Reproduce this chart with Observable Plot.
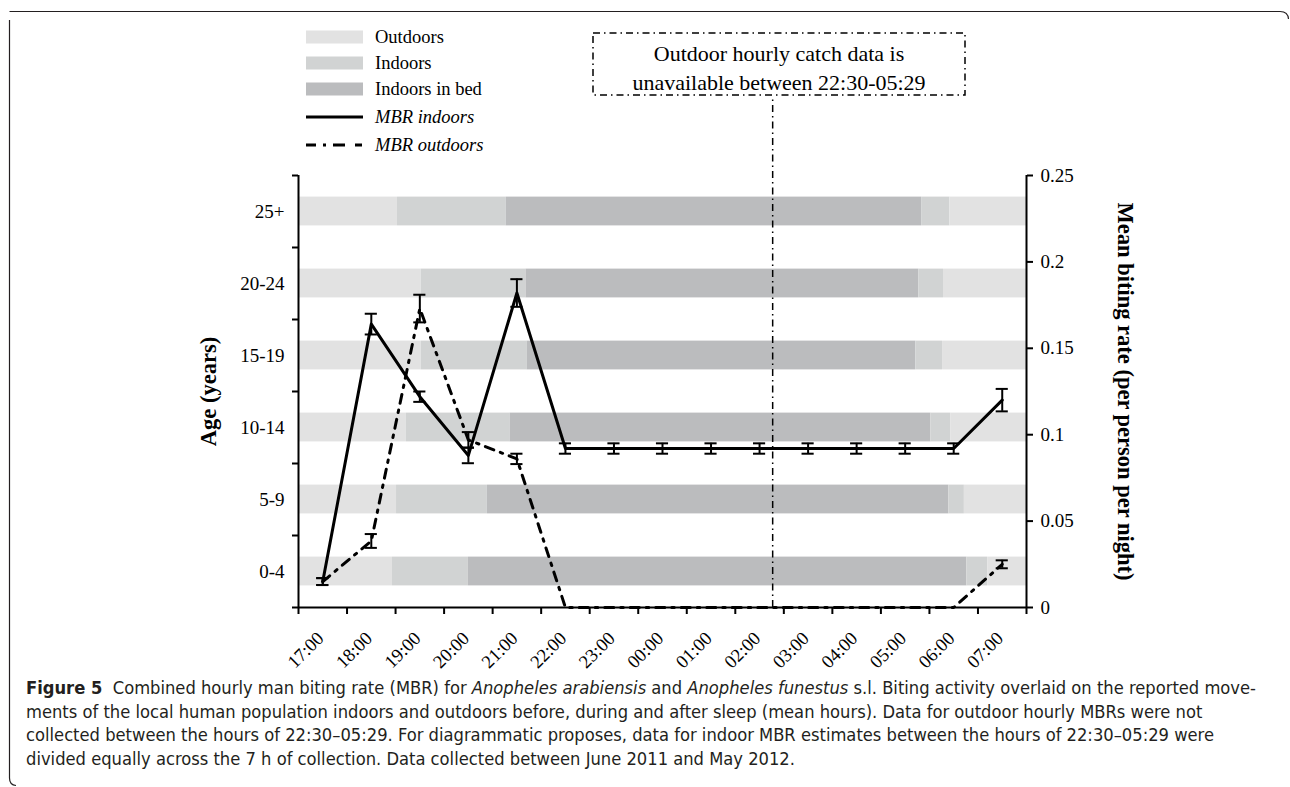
<!DOCTYPE html>
<html>
<head>
<meta charset="utf-8">
<script src="https://cdn.jsdelivr.net/npm/d3@7"></script>
<script src="https://cdn.jsdelivr.net/npm/@observablehq/plot@0.6"></script>
<style>
  body { margin: 0; background: #fff; }
  #wrap { position: relative; width: 1290px; height: 787px; overflow: hidden; background: #fff; }
  #wrap > svg { position: absolute; left: 0; top: 0; }
  .cap { position: absolute; left: 26px; white-space: nowrap; font-family: "Liberation Sans Narrow", "DejaVu Sans Condensed", "Open Sans", sans-serif; font-size: 17px; color: #231f20; transform-origin: 0 50%; line-height: 23px; }
  .cap b { font-weight: bold; }
</style>
</head>
<body>
<div id="wrap"></div>
<script>
// ---------- data ----------
const ages = ["0-4", "5-9", "10-14", "15-19", "20-24", "25+"];
// reported movements (decimal clock hours, after midnight = +24)
const indoorStart = [18.43, 18.52, 18.72, 19.03, 19.03, 18.54];
const bedStart    = [20.00, 20.39, 20.86, 21.21, 21.19, 20.78];
const bedEnd      = [30.27, 29.90, 29.53, 29.22, 29.28, 29.34];
const indoorEnd   = [30.70, 30.22, 29.94, 29.77, 29.79, 29.92];

const hourLabels = ["17:00","18:00","19:00","20:00","21:00","22:00","23:00","00:00","01:00","02:00","03:00","04:00","05:00","06:00","07:00"];
const mbrIndoors     = [0.015, 0.164, 0.122, 0.088, 0.182, 0.092, 0.092, 0.092, 0.092, 0.092, 0.092, 0.092, 0.092, 0.092, 0.120];
const mbrIndoorsErr  = [0.002, 0.006, 0.003, 0.0045, 0.008, 0.003, 0.003, 0.003, 0.003, 0.003, 0.003, 0.003, 0.003, 0.003, 0.0065];
const mbrOutdoors    = [0.015, 0.0385, 0.173, 0.097, 0.086, 0, 0, 0, 0, 0, 0, 0, 0, 0, 0.025];
const mbrOutdoorsErr = [0.002, 0.004, 0.008, 0.0045, 0.003, 0, 0, 0, 0, 0, 0, 0, 0, 0, 0.0023];

const rateTicks = [0, 0.05, 0.1, 0.15, 0.2, 0.25];
const gapLineHour = 26.27;   // marker for the 22:30-05:29 note
const legendItems = ["Outdoors", "Indoors", "Indoors in bed", "MBR indoors", "MBR outdoors"];
const activityColors = ["#e2e2e2", "#d1d3d3", "#bbbcbe"];

// ---------- derived ----------
const firstHour = 17;
const xDomain = [firstHour - 0.5, firstHour + hourLabels.length - 0.5];
const rows = hourLabels.map((lab, i) => ({
  h: firstHour + i, lab,
  ind: mbrIndoors[i], indE: mbrIndoorsErr[i],
  out: mbrOutdoors[i], outE: mbrOutdoorsErr[i]
}));
const kinds = ["Outdoors", "Indoors", "Indoors in bed", "Indoors", "Outdoors"];
const segs = [];
ages.forEach((a, i) => {
  const cuts = [xDomain[0], indoorStart[i], bedStart[i], bedEnd[i], indoorEnd[i], xDomain[1]];
  kinds.forEach((k, j) => segs.push({ age: a, idx: i, x1: cuts[j], x2: cuts[j + 1], kind: k }));
});
const boundaries = d3.range(hourLabels.length + 1).map(i => xDomain[0] + i);

const W = 1290, H = 787;
const M = { marginTop: 175, marginBottom: 180, marginLeft: 298, marginRight: 264 };
const serif = "'Liberation Serif', 'Times New Roman', serif";
const baseStyle = { fontFamily: serif, fontSize: "19px", color: "#000", background: "transparent", overflow: "visible" };

// ---------- layer A: activity bars + age axis ----------
const chartA = Plot.plot({
  width: W, height: H, ...M,
  style: baseStyle,
  x: { domain: xDomain, axis: null },
  y: { domain: [0, ages.length], axis: null },
  color: { domain: ["Outdoors", "Indoors", "Indoors in bed"], range: activityColors },
  marks: [
    Plot.rect(segs, { x1: "x1", x2: "x2", y1: d => d.idx + 0.3, y2: d => d.idx + 0.7, fill: "kind" }),
    Plot.axisY(d3.range(ages.length + 1), { tickSize: 6, tickFormat: () => "", label: null, stroke: "#000", strokeWidth: 2 }),
    Plot.ruleX([xDomain[0]], { stroke: "#000", strokeWidth: 2 }),
    Plot.text(ages, { text: d => d, y: (d, i) => i + 0.5, frameAnchor: "left", dx: -14, textAnchor: "end", fontSize: 19, fill: "#000" }),
    Plot.text(["Age (years)"], { text: d => d, frameAnchor: "left", dx: -90, rotate: -90, textAnchor: "middle", fontWeight: "bold", fontSize: 22.5, fill: "#000" })
  ]
});

// ---------- layer B: biting rates ----------
const cap = 0.125;
const withIndErr = rows.filter(d => d.indE > 0);
const withOutErr = rows.filter(d => d.outE > 0);
const errMarks = (data, v, e) => [
  Plot.ruleX(data, { x: "h", y1: d => d[v] - d[e], y2: d => d[v] + d[e], stroke: "#000", strokeWidth: 2 }),
  Plot.ruleY(data, { y: d => d[v] + d[e], x1: d => d.h - cap, x2: d => d.h + cap, stroke: "#000", strokeWidth: 2 }),
  Plot.ruleY(data, { y: d => d[v] - d[e], x1: d => d.h - cap, x2: d => d.h + cap, stroke: "#000", strokeWidth: 2 })
];

const chartB = Plot.plot({
  width: W, height: H, ...M,
  style: baseStyle,
  x: { domain: xDomain, axis: null },
  y: { domain: [0, 0.25], axis: null },
  marks: [
    Plot.ruleX([gapLineHour], { y1: 0, y2: 0.296, stroke: "#000", strokeWidth: 1.5, strokeDasharray: "7,4,1.5,4" }),
    Plot.line(rows, { x: "h", y: "out", stroke: "#000", strokeWidth: 3, strokeDasharray: "9,7,2.5,7" }),
    Plot.line(rows, { x: "h", y: "ind", stroke: "#000", strokeWidth: 3 }),
    ...errMarks(withOutErr, "out", "outE"),
    ...errMarks(withIndErr, "ind", "indE"),
    Plot.ruleY([0], { stroke: "#000", strokeWidth: 2 }),
    Plot.axisX(boundaries, { tickSize: 7, tickFormat: () => "", label: null, stroke: "#000", strokeWidth: 2 }),
    Plot.text(rows, { x: "h", text: "lab", frameAnchor: "bottom", dy: 32, dx: 2, rotate: -45, textAnchor: "end", fontSize: 18.5, fill: "#000" }),
    Plot.ruleX([xDomain[1]], { stroke: "#000", strokeWidth: 2 }),
    Plot.axisY(rateTicks, { anchor: "right", tickSize: 6, tickPadding: 8, label: null, stroke: "#000", strokeWidth: 2,
      tickFormat: d => String(+d.toFixed(2)), fontSize: 19, fill: "#000" }),
    Plot.text(["Mean biting rate (per person per night)"], { text: d => d, frameAnchor: "right", dx: 99, rotate: 90, textAnchor: "middle", fontWeight: "bold", fontSize: 22.5, fill: "#000" })
  ]
});

const wrap = document.getElementById("wrap");
wrap.appendChild(chartA);
wrap.appendChild(chartB);

// ---------- overlay: legend, note box, figure frame ----------
const ov = d3.select(wrap).append("svg").attr("width", W).attr("height", 787)
  .style("font-family", serif).style("overflow", "visible");

// frame
ov.append("path")
  .attr("d", "M9.5,20 L9.5,778 Q9.5,785 16,785.5 M9.5,11.5 L1280,11.5 Q1288,11.5 1288.5,19")
  .attr("fill", "none").attr("stroke", "#231f20").attr("stroke-width", 1.2);

// legend
const lgX = 306, lgW = 57, lgText = 375;
const lgY = [37, 63, 89, 117, 145];
legendItems.forEach((name, i) => {
  const y = lgY[i];
  if (i < 3) {
    ov.append("rect").attr("x", lgX).attr("y", y - 6.5).attr("width", lgW).attr("height", 13).attr("fill", activityColors[i]);
  } else {
    ov.append("line").attr("x1", lgX).attr("x2", lgX + lgW).attr("y1", y).attr("y2", y)
      .attr("stroke", "#000").attr("stroke-width", 3)
      .attr("stroke-dasharray", i === 4 ? "10,7,3,7,12" : null);
  }
  ov.append("text").attr("x", lgText).attr("y", y).attr("dy", "0.35em")
    .attr("font-size", 18.5).attr("font-style", i >= 3 ? "italic" : null).text(name);
});

// note box
ov.append("rect").attr("x", 593).attr("y", 33).attr("width", 372).attr("height", 62)
  .attr("fill", "#fff").attr("stroke", "#000").attr("stroke-width", 1.5).attr("stroke-dasharray", "7,4,1.5,4");
ov.append("text").attr("x", 779).attr("y", 53).attr("dy", "0.35em").attr("text-anchor", "middle").attr("font-size", 22)
  .text("Outdoor hourly catch data is");
ov.append("text").attr("x", 779).attr("y", 82).attr("dy", "0.35em").attr("text-anchor", "middle").attr("font-size", 22)
  .text("unavailable between 22:30-05:29");

// caption
const capLines = [
  '<b>Figure 5</b>&nbsp; Combined hourly man biting rate (MBR) for <i>Anopheles arabiensis</i> and <i>Anopheles funestus</i> s.l. Biting activity overlaid on the reported move-',
  'ments of the local human population indoors and outdoors before, during and after sleep (mean hours). Data for outdoor hourly MBRs were not',
  'collected between the hours of 22:30–05:29. For diagrammatic proposes, data for indoor MBR estimates between the hours of 22:30–05:29 were',
  'divided equally across the 7 h of collection. Data collected between June 2011 and May 2012.'
];
const capTops = [677, 700.5, 724, 747.5];
const capEls = capLines.map((html, i) => {
  const d = document.createElement("div");
  d.className = "cap";
  d.style.top = capTops[i] + "px";
  d.innerHTML = html;
  wrap.appendChild(d);
  return d;
});
const w0 = capEls[0].getBoundingClientRect().width;
const k = 1230 / w0;
capEls.forEach(el => el.style.transform = `scaleX(${k})`);
</script>
</body>
</html>
